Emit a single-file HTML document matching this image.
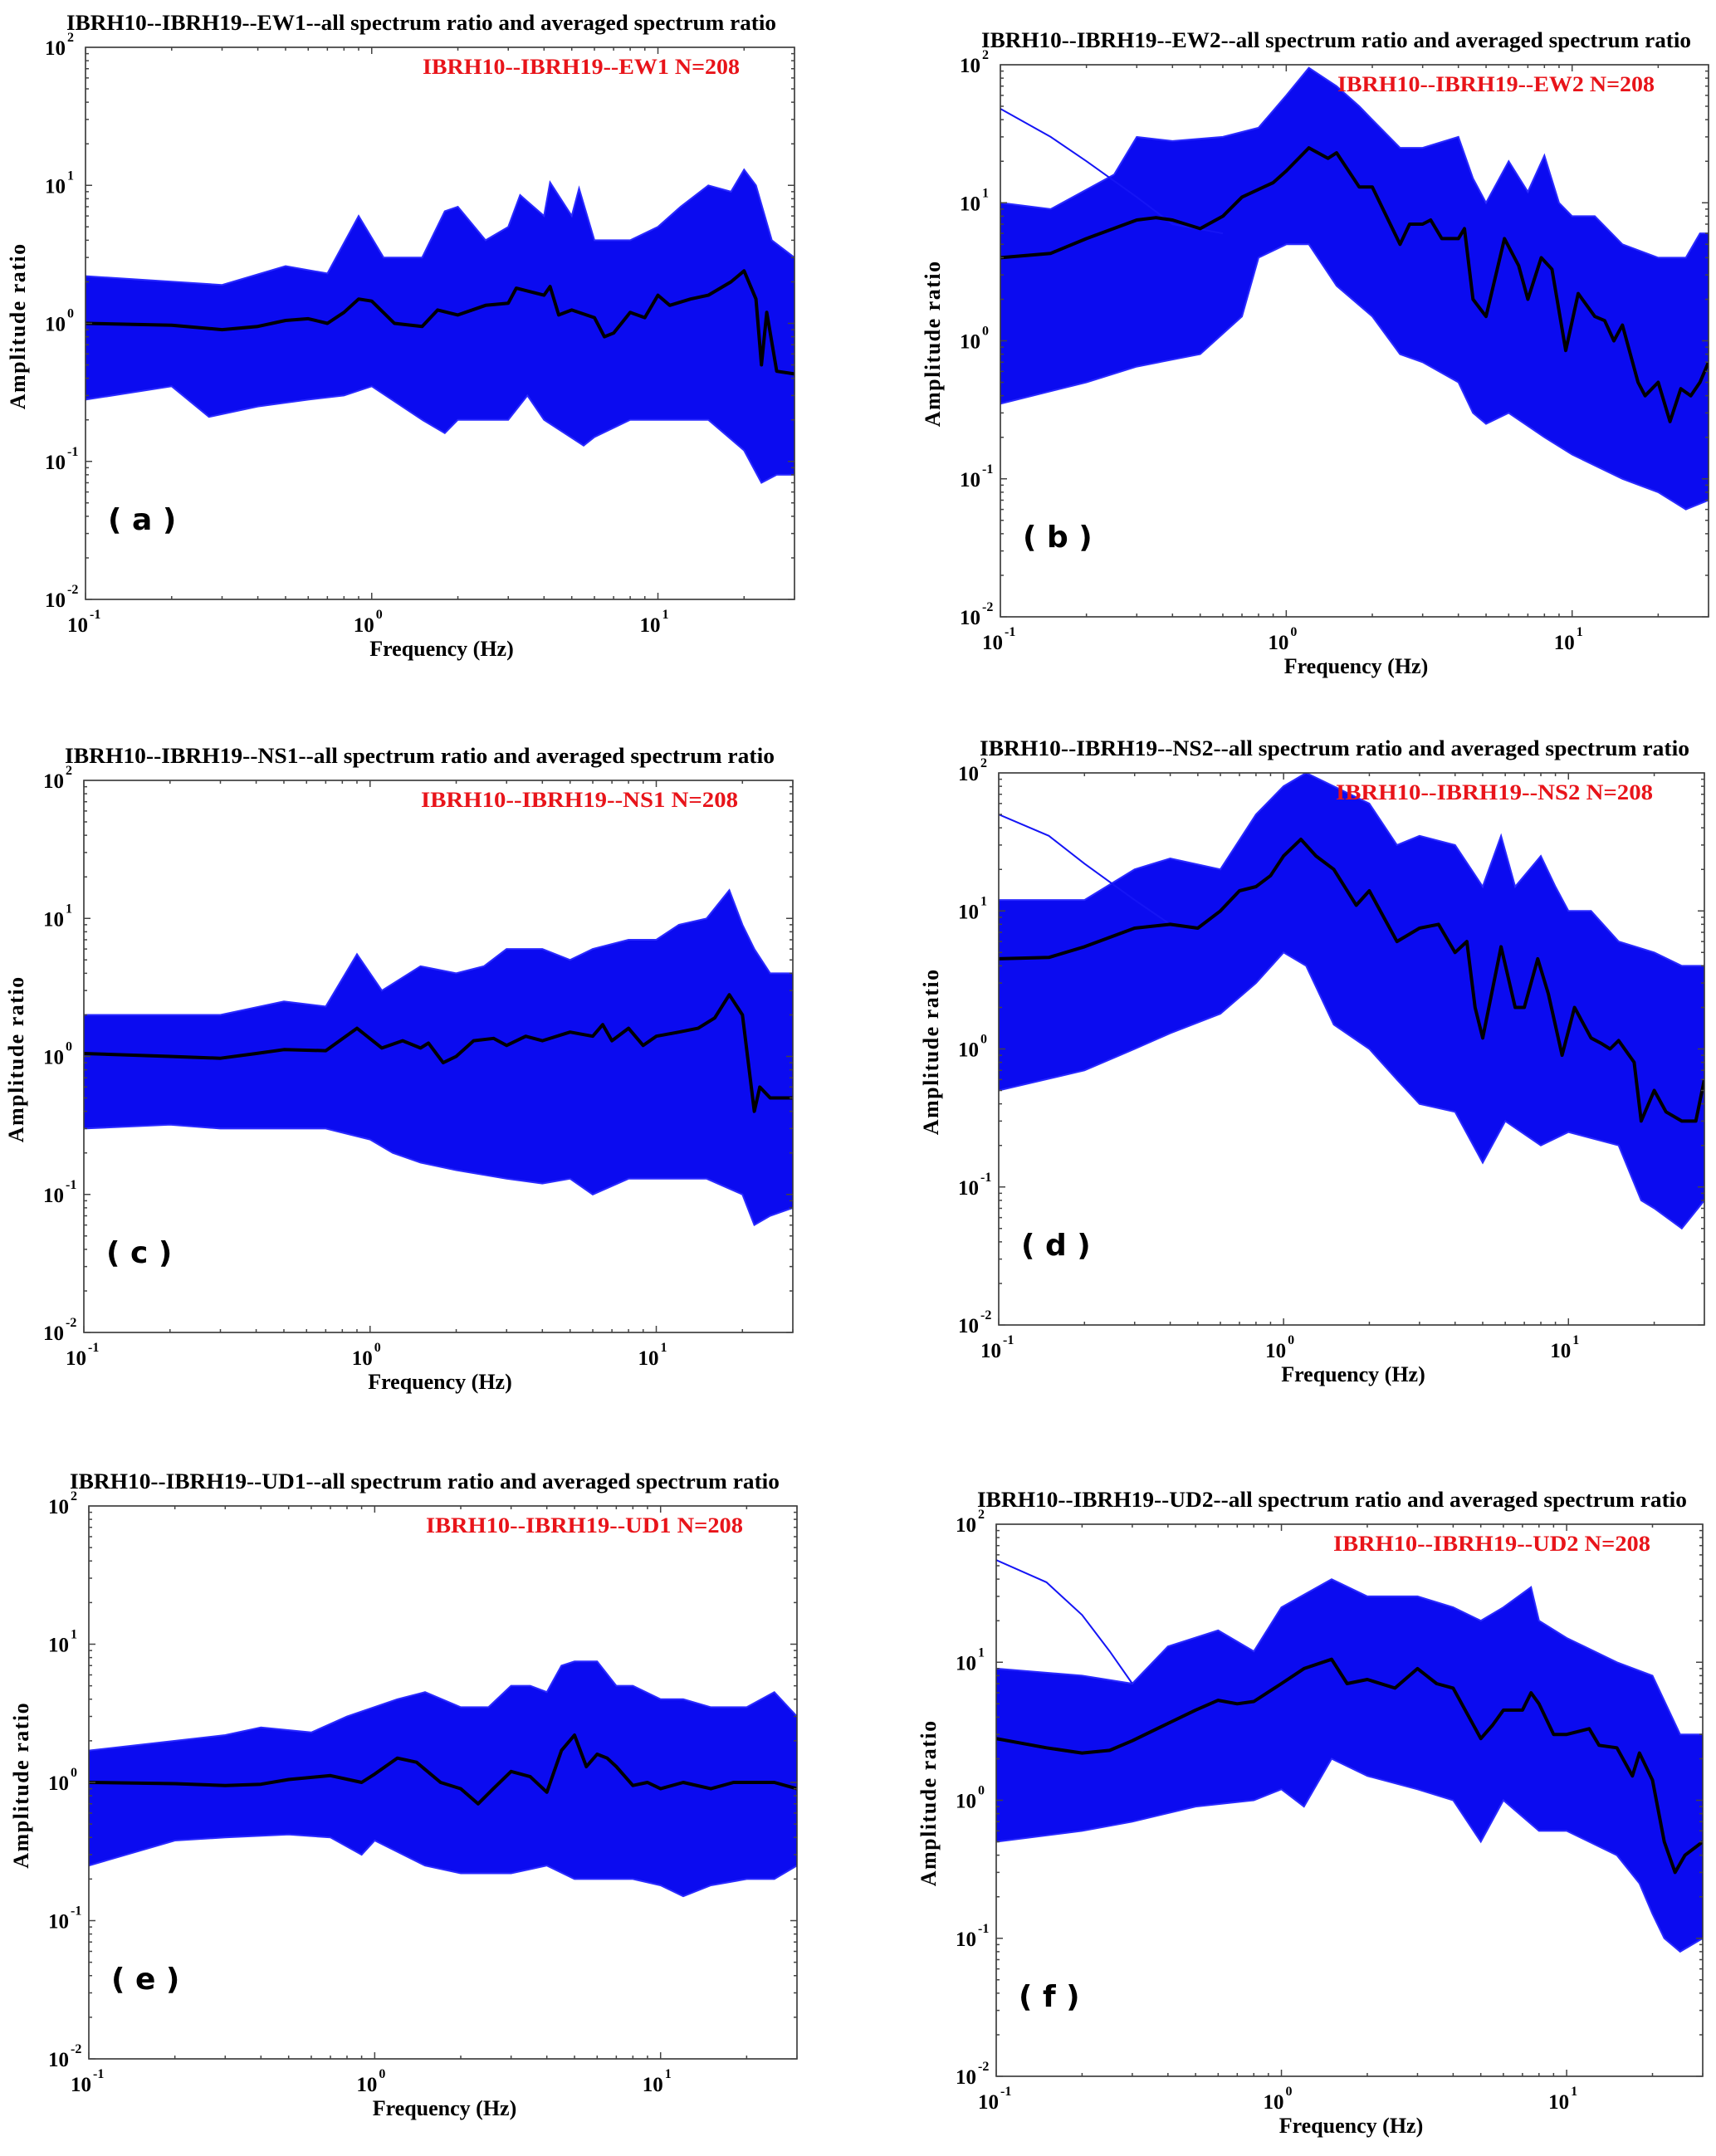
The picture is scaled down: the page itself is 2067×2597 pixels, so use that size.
<!DOCTYPE html>
<html><head><meta charset="utf-8"><style>
html,body{margin:0;padding:0;background:#fff}
svg{display:block}
</style></head><body>
<svg id="fig" width="2067" height="2597" viewBox="0 0 2067 2597" xmlns="http://www.w3.org/2000/svg"></svg>
<script>
// ---- data (frequency Hz, amplitude ratio) ----
const aAvgF=[0.1,0.2,0.3,0.4,0.5,0.6,0.7,0.8,0.9,1.0,1.2,1.5,1.7,2,2.5,3,3.2,4,4.2,4.5,5,6,6.5,7,8,9,10,11,13,15,18,20,22,23,24,26,30];
const aAvgV=[1.0,0.97,0.9,0.95,1.05,1.08,1.0,1.2,1.5,1.45,1.0,0.95,1.25,1.15,1.35,1.4,1.8,1.6,1.85,1.15,1.25,1.1,0.8,0.85,1.2,1.1,1.6,1.35,1.5,1.6,2.0,2.4,1.5,0.5,1.2,0.45,0.43];
const aUpF=[0.1,0.3,0.5,0.7,0.9,1.1,1.5,1.8,2,2.5,3,3.3,4,4.2,5,5.3,6,8,10,12,15,18,20,22,25,30];
const aUpV=[2.2,1.9,2.6,2.3,6,3,3,6.5,7,4,5,8.5,6,10.5,6,9.5,4,4,5,7,10,9,13,10,4,3];
const aLoF=[0.1,0.2,0.27,0.4,0.6,0.8,1,1.5,1.8,2,3,3.5,4,5.5,6,8,10,15,20,23,26,30];
const aLoV=[0.28,0.35,0.21,0.25,0.28,0.3,0.35,0.2,0.16,0.2,0.2,0.3,0.2,0.13,0.15,0.2,0.2,0.2,0.12,0.07,0.08,0.08];

const bAvgF=[0.1,0.15,0.2,0.3,0.35,0.4,0.5,0.6,0.7,0.9,1,1.2,1.4,1.5,1.8,2,2.5,2.7,3,3.2,3.5,4,4.2,4.5,5,5.8,6.5,7,7.8,8.5,9.5,10.5,12,13,14,15,17,18,20,22,24,26,28,30];
const bAvgV=[4,4.3,5.5,7.5,7.8,7.5,6.5,8,11,14,17,25,21,23,13,13,5,7,7,7.5,5.5,5.5,6.5,2,1.5,5.5,3.5,2,4,3.3,0.85,2.2,1.5,1.4,1,1.3,0.5,0.4,0.5,0.26,0.45,0.4,0.5,0.7];
const bUpF=[0.1,0.15,0.25,0.3,0.4,0.6,0.8,1,1.2,1.5,1.8,2,2.5,3,4,4.5,5,6,7,8,9,10,12,15,20,25,28,30];
const bUpV=[10,9,16,30,28,30,35,60,95,70,50,40,25,25,30,15,10,20,12,22,10,8,8,5,4,4,6,6];
const bLoF=[0.1,0.2,0.3,0.5,0.7,0.8,1,1.2,1.5,2,2.5,3,4,4.5,5,6,8,10,15,20,25,30];
const bLoV=[0.35,0.5,0.65,0.8,1.5,4,5,5,2.5,1.5,0.8,0.7,0.5,0.3,0.25,0.3,0.2,0.15,0.1,0.08,0.06,0.07];
const bOutF=[0.1,0.15,0.2,0.3,0.4,0.6];
const bOutV=[48,30,20,11,7,6];

const cAvgF=[0.1,0.2,0.3,0.4,0.5,0.7,0.9,1.1,1.3,1.5,1.6,1.8,2,2.3,2.7,3,3.5,4,5,6,6.5,7,8,9,10,12,14,16,18,20,22,23,25,30];
const cAvgV=[1.05,1.0,0.97,1.05,1.12,1.1,1.6,1.15,1.3,1.15,1.25,0.9,1.0,1.3,1.35,1.2,1.4,1.3,1.5,1.4,1.7,1.3,1.6,1.2,1.4,1.5,1.6,1.9,2.8,2.0,0.4,0.6,0.5,0.5];
const cUpF=[0.1,0.3,0.5,0.7,0.9,1.1,1.5,2,2.5,3,4,5,6,8,10,12,15,18,20,22,25,30];
const cUpV=[2,2,2.5,2.3,5.5,3,4.5,4,4.5,6,6,5,6,7,7,9,10,16,9,6,4,4];
const cLoF=[0.1,0.2,0.3,0.5,0.7,1,1.2,1.5,2,3,4,5,6,8,10,15,20,22,25,30];
const cLoV=[0.3,0.32,0.3,0.3,0.3,0.25,0.2,0.17,0.15,0.13,0.12,0.13,0.1,0.13,0.13,0.13,0.1,0.06,0.07,0.08];

const dAvgF=[0.1,0.15,0.2,0.3,0.4,0.5,0.6,0.7,0.8,0.9,1.0,1.15,1.3,1.5,1.8,2,2.5,3,3.5,4,4.4,4.7,5,5.8,6.5,7,7.8,8.5,9.5,10.5,12,13,14,15,17,18,20,22,25,28,30];
const dAvgV=[4.5,4.6,5.5,7.5,8,7.5,10,14,15,18,25,33,25,20,11,14,6,7.5,8,5,6,2,1.2,5.5,2,2,4.5,2.5,0.9,2,1.2,1.1,1.0,1.15,0.8,0.3,0.5,0.35,0.3,0.3,0.6];
const dUpF=[0.1,0.2,0.3,0.4,0.6,0.8,1,1.2,1.5,2,2.5,3,4,5,5.8,6.5,8,9,10,12,15,20,25,30];
const dUpV=[12,12,20,24,20,50,80,100,80,60,30,35,30,15,35,15,25,15,10,10,6,5,4,4];
const dLoF=[0.1,0.2,0.3,0.4,0.6,0.8,1,1.2,1.5,2,2.5,3,4,5,6,8,10,15,18,20,25,30];
const dLoV=[0.5,0.7,1.0,1.3,1.8,3,5,4,1.5,1,0.6,0.4,0.35,0.15,0.3,0.2,0.25,0.2,0.08,0.07,0.05,0.08];
const dOutF=[0.1,0.15,0.2,0.3,0.4];
const dOutV=[50,35,22,12,8];

const eAvgF=[0.1,0.2,0.3,0.4,0.5,0.7,0.9,1.0,1.2,1.4,1.7,2,2.3,2.6,3,3.5,4,4.5,5,5.5,6,6.5,7,8,9,10,12,15,18,22,25,30];
const eAvgV=[1.0,0.98,0.95,0.97,1.05,1.12,1.0,1.15,1.5,1.4,1.0,0.9,0.7,0.9,1.2,1.1,0.85,1.7,2.2,1.3,1.6,1.5,1.3,0.95,1.0,0.9,1.0,0.9,1.0,1.0,1.0,0.9];
const eUpF=[0.1,0.3,0.4,0.6,0.8,1.2,1.5,2,2.5,3,3.5,4,4.5,5,6,7,8,10,12,15,20,25,30];
const eUpV=[1.7,2.2,2.5,2.3,3,4,4.5,3.5,3.5,5,5,4.5,7,7.5,7.5,5,5,4,4,3.5,3.5,4.5,3];
const eLoF=[0.1,0.2,0.3,0.5,0.7,0.9,1,1.5,2,3,4,5,6,8,10,12,15,20,25,30];
const eLoV=[0.25,0.38,0.4,0.42,0.4,0.3,0.38,0.25,0.22,0.22,0.25,0.2,0.2,0.2,0.18,0.15,0.18,0.2,0.2,0.25];

const fAvgF=[0.1,0.15,0.2,0.25,0.3,0.4,0.5,0.6,0.7,0.8,1,1.2,1.5,1.7,2,2.5,3,3.5,4,5,5.5,6,7,7.5,8,9,10,12,13,15,17,18,20,22,24,26,30];
const fAvgV=[2.8,2.4,2.2,2.3,2.7,3.6,4.5,5.3,5,5.2,7,9,10.5,7,7.5,6.5,9,7,6.5,2.8,3.5,4.5,4.5,6,5,3,3,3.3,2.5,2.4,1.5,2.2,1.4,0.5,0.3,0.4,0.5];
const fUpF=[0.1,0.2,0.3,0.4,0.6,0.8,1,1.5,2,3,4,5,6,7.5,8,10,15,20,25,30];
const fUpV=[9,8,7,13,17,12,25,40,30,30,25,20,25,35,20,15,10,8,3,3];
const fLoF=[0.1,0.2,0.3,0.5,0.8,1,1.2,1.5,2,3,4,5,6,8,10,15,18,20,22,25,30];
const fLoV=[0.5,0.6,0.7,0.9,1,1.2,0.9,2,1.5,1.2,1,0.5,1.0,0.6,0.6,0.4,0.25,0.15,0.1,0.08,0.1];
const fOutF=[0.1,0.15,0.2,0.25,0.3];
const fOutV=[55,38,22,12,7];

const panelNames=['EW1','EW2','NS1','NS2','UD1','UD2'];
const panelLetters=['a','b','c','d','e','f'];
const yTickExps=[-2,-1,0,1,2];
const xTickExps=[-1,0,1];

const NS='http://www.w3.org/2000/svg';
const svg=document.getElementById('fig');
function mk(tag,attrs,parent){const e=document.createElementNS(NS,tag);for(const k in attrs)e.setAttribute(k,attrs[k]);(parent||svg).appendChild(e);return e;}

const boxes=[[103,957,57,722],[1205,2058,78,743],[101,955,940,1605],[1203,2053,931,1596],[107,960,1814,2480],[1200,2051,1836,2501]];
const series=[
 [aAvgF,aAvgV,aUpF,aUpV,aLoF,aLoV,null,null],
 [bAvgF,bAvgV,bUpF,bUpV,bLoF,bLoV,bOutF,bOutV],
 [cAvgF,cAvgV,cUpF,cUpV,cLoF,cLoV,null,null],
 [dAvgF,dAvgV,dUpF,dUpV,dLoF,dLoV,dOutF,dOutV],
 [eAvgF,eAvgV,eUpF,eUpV,eLoF,eLoV,null,null],
 [fAvgF,fAvgV,fUpF,fUpV,fLoF,fLoV,fOutF,fOutV]];

const FONT='"Liberation Serif",serif';
for(let p=0;p<6;p++){
 const [L,R,T,B]=boxes[p];
 const xMin=-1,xMax=Math.log10(30),yMin=-2,yMax=2;
 const xs=f=>L+(Math.log10(f)-xMin)/(xMax-xMin)*(R-L);
 const ys=v=>B-(Math.log10(v)-yMin)/(yMax-yMin)*(B-T);
 const g=mk('g',{});
 
 
 const clipId='clip'+p;
 const cp=mk('clipPath',{id:clipId},g);mk('rect',{x:L,y:T,width:R-L,height:B-T},cp);
 const d=series[p];
 // band
 let pts=[];
 for(let i=0;i<d[2].length;i++)pts.push(xs(d[2][i]).toFixed(1)+','+ys(d[3][i]).toFixed(1));
 for(let i=d[4].length-1;i>=0;i--)pts.push(xs(d[4][i]).toFixed(1)+','+ys(d[5][i]).toFixed(1));
 const band=mk('polygon',{points:pts.join(' '),fill:'#0b0bf0',stroke:'#2a2aff','stroke-width':2,'clip-path':'url(#'+clipId+')'},g);
 
 
 if(d[6]){
  const op=d[6].map((f,i)=>xs(f).toFixed(1)+','+ys(d[7][i]).toFixed(1)).join(' ');
  const ol=mk('polyline',{points:op,fill:'none',stroke:'#1515f5','stroke-width':2,'clip-path':'url(#'+clipId+')'},g);
  
  
 }
 const ap=d[0].map((f,i)=>xs(f).toFixed(1)+','+ys(d[1][i]).toFixed(1)).join(' ');
 const al=mk('polyline',{points:ap,fill:'none',stroke:'#000','stroke-width':4,'stroke-linejoin':'round','clip-path':'url(#'+clipId+')'},g);
 
 
 // frame
 const fr=mk('rect',{x:L,y:T,width:R-L,height:B-T,fill:'none',stroke:'#333','stroke-width':1.6},g);
 
 
 // ticks
 let tk='';
 for(let e=-1;e<=1;e++)for(let m=1;m<=9;m++){const f=m*Math.pow(10,e);if(f>30)continue;const x=xs(f);const len=m===1?8:4;tk+=`M${x},${B}v${-len}M${x},${T}v${len}`;}
 for(let e=-2;e<2;e++)for(let m=1;m<=9;m++){const v=m*Math.pow(10,e);const y=ys(v);const len=m===1?8:4;tk+=`M${L},${y}h${len}M${R},${y}h${-len}`;}
 mk('path',{d:tk,stroke:'#444','stroke-width':1.5,fill:'none'},g);
 // y tick labels
 yTickExps.forEach(e=>{const y=ys(Math.pow(10,e));
  const t=mk('text',{x:L-24,y:y+9,'text-anchor':'end','font-family':FONT,'font-weight':'bold','font-size':25},g);t.textContent='10';
  
  const s=mk('text',{x:L-22,y:y-7,'font-family':FONT,'font-weight':'bold','font-size':16},g);s.textContent=String(e);});
 xTickExps.forEach(e=>{const x=xs(Math.pow(10,e));
  const t=mk('text',{x:x+3,y:B+39,'text-anchor':'end','font-family':FONT,'font-weight':'bold','font-size':25},g);t.textContent='10';
  
  const s=mk('text',{x:x+5,y:B+23,'font-family':FONT,'font-weight':'bold','font-size':16},g);s.textContent=String(e);});
 // title
 const ti=mk('text',{x:L-23,y:T-21,'font-family':FONT,'font-weight':'bold','font-size':26,textLength:855,lengthAdjust:'spacingAndGlyphs'},g);
 ti.textContent='IBRH10--IBRH19--'+panelNames[p]+'--all spectrum ratio and averaged spectrum ratio';
 
 const rl=mk('text',{x:L+406,y:T+32,fill:'#e8141a','font-family':FONT,'font-weight':'bold','font-size':26,textLength:382,lengthAdjust:'spacingAndGlyphs'},g);
 rl.textContent='IBRH10--IBRH19--'+panelNames[p]+'  N=208';
 
 const xl=mk('text',{x:(L+R)/2+2,y:B+68,'text-anchor':'middle','font-family':FONT,'font-weight':'bold','font-size':26},g);
 xl.textContent='Frequency (Hz)';
 const cy=T+(B-T)*0.505;
 const yl=mk('text',{x:L-73,y:cy,'text-anchor':'middle','font-family':FONT,'font-weight':'bold','font-size':26,'letter-spacing':1.5,transform:`rotate(-90 ${L-73} ${cy})`},g);
 yl.textContent='Amplitude ratio';
 const pl=mk('text',{x:L+27,y:B-84,'font-family':'"DejaVu Sans","Liberation Sans",sans-serif','font-weight':'bold','font-size':36},g);
 pl.textContent='( '+panelLetters[p]+' )';
}
</script>
</body></html>
